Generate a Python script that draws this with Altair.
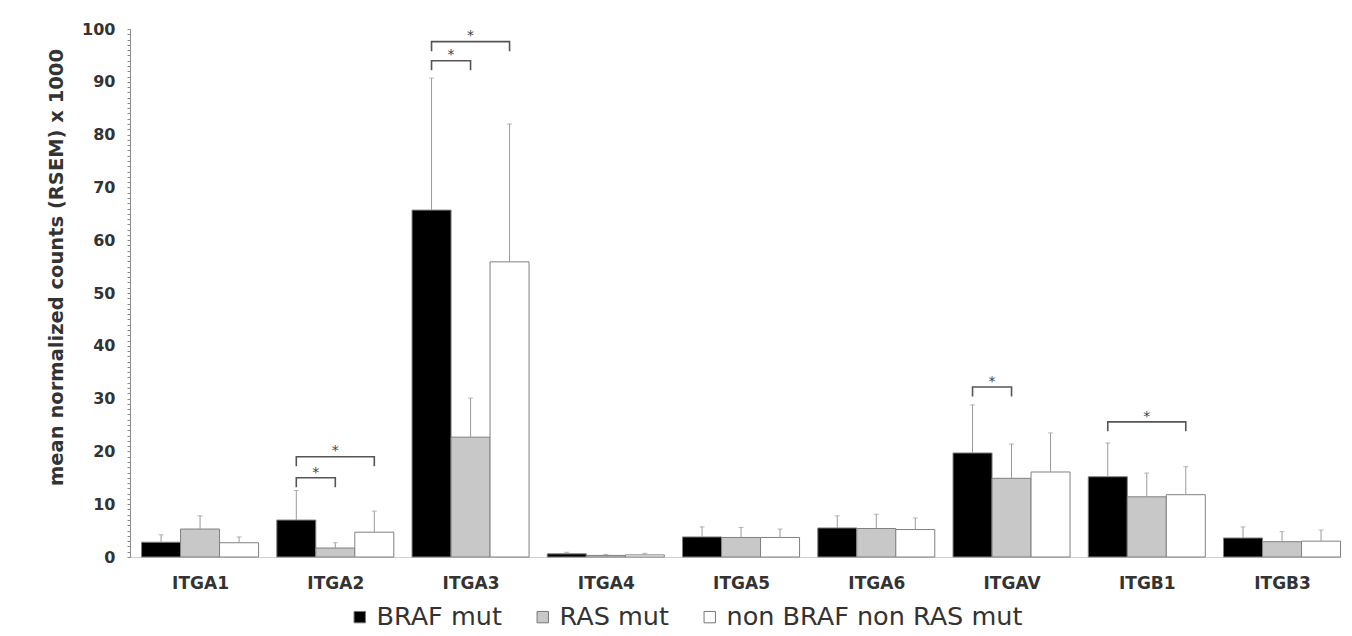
import altair as alt
import pandas as pd

# ---- data ----
genes = ["ITGA1", "ITGA2", "ITGA3", "ITGA4", "ITGA5", "ITGA6", "ITGAV", "ITGB1", "ITGB3"]
series = ["BRAF mut", "RAS mut", "non BRAF non RAS mut"]
braf = [2.8, 7.0, 65.7, 0.6, 3.8, 5.5, 19.7, 15.2, 3.6]
ras = [5.3, 1.7, 22.7, 0.3, 3.7, 5.4, 14.9, 11.4, 2.9]
nonm = [2.7, 4.7, 55.9, 0.4, 3.7, 5.2, 16.1, 11.8, 3.0]
braf_err = [1.4, 5.6, 25.0, 0.3, 1.9, 2.3, 9.1, 6.4, 2.1]
ras_err = [2.5, 1.0, 7.4, 0.2, 1.9, 2.7, 6.5, 4.5, 1.9]
non_err = [1.1, 4.0, 26.1, 0.3, 1.6, 2.2, 7.4, 5.3, 2.1]

# significance brackets: gene, compared group (vs BRAF mut), bracket level
br_gene = ["ITGA2", "ITGA2", "ITGA3", "ITGA3", "ITGAV", "ITGB1"]
br_target = ["RAS mut", "non BRAF non RAS mut", "RAS mut", "non BRAF non RAS mut",
             "RAS mut", "non BRAF non RAS mut"]
br_level = [15.0, 19.0, 94.0, 97.6, 32.2, 25.6]
br_label = ["*", "*", "*", "*", "*", "*"]

# ---- layout helpers ----
W = 0.2884  # bar width in category units
offs = {s: (k - 1) * W for k, s in enumerate(series)}
DROP = 1.8

vals = {series[0]: braf, series[1]: ras, series[2]: nonm}
errs = {series[0]: braf_err, series[1]: ras_err, series[2]: non_err}

rows = []
for s in series:
    for i, g in enumerate(genes):
        xc = i + offs[s]
        rows.append({"gene": g, "series": s, "xc": xc, "x0": xc - W / 2, "x1": xc + W / 2,
                     "value": vals[s][i], "upper": vals[s][i] + errs[s][i]})
df = pd.DataFrame(rows)

brows, trows = [], []
for b, (g, t, lv) in enumerate(zip(br_gene, br_target, br_level)):
    i = genes.index(g)
    xa = i + offs[series[0]]
    xb = i + offs[t]
    for o, (xx, yy) in enumerate([(xa, lv - DROP), (xa, lv), (xb, lv), (xb, lv - DROP)]):
        brows.append({"bid": b, "ord": o, "bx": xx, "by": yy})
    trows.append({"tx": (xa + xb) / 2, "ty": lv + 1.0, "lab": br_label[b]})
dfb = pd.DataFrame(brows)
dft = pd.DataFrame(trows)

xscale = alt.Scale(domain=[-0.518, 8.436], nice=False, zero=False)
yscale = alt.Scale(domain=[0, 100], nice=False)

label_expr = "[" + ",".join("'%s'" % g for g in genes) + "][datum.value]"

xaxis = alt.Axis(values=list(range(len(genes))), labelExpr=label_expr, title=None,
                 ticks=False, grid=False, domainColor="#cfcfcf", labelFont="DejaVu Sans",
                 labelFontWeight="bold", labelFontSize=17, labelColor="#333333",
                 labelPadding=18, labelOverlap=False)
yaxis = alt.Axis(values=list(range(0, 101)),
                 labelExpr="datum.value % 10 === 0 ? datum.label : ''",
                 title="mean normalized counts (RSEM) x 1000", grid=False,
                 tickSize=3, tickColor="#8a8a8a", domainColor="#8a8a8a",
                 labelFont="DejaVu Sans", labelFontWeight="bold", labelFontSize=16,
                 labelColor="#333333", labelPadding=12, labelOverlap=False,
                 titleFont="DejaVu Sans", titleFontWeight="bold", titleFontSize=19.5,
                 titleColor="#333333", titleAngle=270, titleX=-73.5, titleY=238,
                 titleAlign="center", titleBaseline="middle")


def X(field):
    return alt.X(field, scale=xscale, axis=xaxis)


def Y(field):
    return alt.Y(field, scale=yscale, axis=yaxis)


bars = alt.Chart(df).mark_bar(stroke="#808080", strokeWidth=1).encode(
    x=X("x0:Q"),
    x2="x1:Q",
    y=Y("value:Q"),
    y2=alt.datum(0),
    color=alt.Color("series:N", sort=series,
                    scale=alt.Scale(domain=series, range=["#000000", "#c8c8c8", "#ffffff"]),
                    legend=alt.Legend(title=None, orient="none", direction="horizontal",
                                      legendX=217, legendY=575, padding=0,
                                      symbolType="square", symbolSize=130,
                                      symbolStrokeColor="#777777", symbolStrokeWidth=1,
                                      labelFont="DejaVu Sans", labelFontSize=25.5,
                                      labelColor="#333333", labelOffset=4,
                                      labelLimit=600, columnPadding=28)),
)

errbars = alt.Chart(df).mark_rule(color="#9a9a9a", strokeWidth=1).encode(
    x=X("xc:Q"),
    y=Y("value:Q"),
    y2="upper:Q",
)
caps = alt.Chart(df).mark_tick(color="#9a9a9a", orient="horizontal", size=5, thickness=1).encode(
    x=X("xc:Q"),
    y=Y("upper:Q"),
)
brackets = alt.Chart(dfb).mark_line(color="#555555", strokeWidth=1.6).encode(
    x=X("bx:Q"),
    y=Y("by:Q"),
    detail="bid:N",
    order="ord:Q",
)
stars = alt.Chart(dft).mark_text(font="DejaVu Sans", fontSize=14, color="#444444",
                                 baseline="middle").encode(
    x=X("tx:Q"),
    y=Y("ty:Q"),
    text="lab:N",
)

chart = alt.layer(bars, errbars, caps, brackets, stars).properties(
    width=1211, height=528,
    autosize=alt.AutoSizeParams(type="none"),
    padding={"left": 122, "top": 21, "right": 2, "bottom": 74},
    background="white",
).configure_view(strokeWidth=0)

chart.save("out.html", embed_options={"renderer": "svg", "actions": False})
